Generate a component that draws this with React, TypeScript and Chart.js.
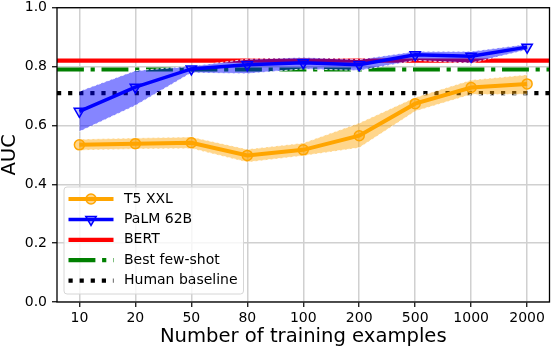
import React, { useEffect, useRef } from 'react';
import { Chart, registerables } from 'chart.js';

Chart.register(...registerables);

// ---- data ----
const categories = ['10', '20', '50', '80', '100', '200', '500', '1000', '2000'];
const t5Mean = [0.534, 0.538, 0.541, 0.498, 0.517, 0.565, 0.674, 0.729, 0.741];
const t5Low = [0.516, 0.520, 0.522, 0.475, 0.497, 0.524, 0.648, 0.705, 0.706];
const t5High = [0.553, 0.557, 0.561, 0.519, 0.540, 0.608, 0.695, 0.754, 0.772];
const palmMean = [0.648, 0.730, 0.792, 0.806, 0.813, 0.806, 0.840, 0.835, 0.866];
const palmLow = [0.579, 0.668, 0.779, 0.776, 0.792, 0.787, 0.821, 0.812, 0.857];
const palmHigh = [0.716, 0.786, 0.801, 0.825, 0.831, 0.824, 0.851, 0.851, 0.876];
const bertAUC = 0.82;
const fewShotAUC = 0.79;
const humanAUC = 0.71;
const yTickValues = [0, 0.2, 0.4, 0.6, 0.8, 1.0];

const FONT = "'DejaVu Sans', sans-serif";

const framePlugin = {
  id: 'frame',
  afterDatasetsDraw(chart: any) {
    const { ctx, chartArea: a } = chart;
    ctx.save();
    ctx.strokeStyle = 'black';
    ctx.lineWidth = 1.3;
    ctx.strokeRect(a.left, a.top, a.right - a.left, a.bottom - a.top);
    ctx.restore();
  },
};

const legendPlugin = {
  id: 'customLegend',
  afterDraw(chart: any) {
    const ctx = chart.ctx as CanvasRenderingContext2D;
    const items = chart.data.datasets.filter((d: any) => d.inLegend);
    const bx = 64, by = 187, bw = 179.5, bh = 107;
    ctx.save();
    ctx.beginPath();
    (ctx as any).roundRect(bx, by, bw, bh, 3);
    ctx.fillStyle = 'rgba(255,255,255,0.8)';
    ctx.fill();
    ctx.strokeStyle = '#d6d6d6';
    ctx.lineWidth = 1;
    ctx.stroke();
    items.forEach((ds: any, i: number) => {
      const cy = 199 + i * 20.4;
      const x0 = 68.5, x1 = 113.5;
      ctx.beginPath();
      ctx.setLineDash(ds.borderDash || []);
      ctx.lineWidth = ds.borderWidth;
      ctx.strokeStyle = ds.borderColor;
      ctx.lineCap = 'butt';
      ctx.moveTo(x0, cy);
      ctx.lineTo(x1, cy);
      ctx.stroke();
      ctx.setLineDash([]);
      const mx = (x0 + x1) / 2;
      if (ds.pointStyle === 'circle') {
        ctx.beginPath();
        ctx.arc(mx, cy, ds.pointRadius, 0, Math.PI * 2);
        ctx.fillStyle = ds.pointBackgroundColor;
        ctx.fill();
        ctx.lineWidth = ds.pointBorderWidth;
        ctx.strokeStyle = ds.pointBorderColor;
        ctx.stroke();
      } else if (ds.pointStyle === 'triangle') {
        const r = ds.pointRadius;
        ctx.beginPath();
        ctx.moveTo(mx, cy + r);
        ctx.lineTo(mx - r * 0.866, cy - r * 0.5);
        ctx.lineTo(mx + r * 0.866, cy - r * 0.5);
        ctx.closePath();
        ctx.fillStyle = ds.pointBackgroundColor;
        ctx.fill();
        ctx.lineWidth = ds.pointBorderWidth;
        ctx.strokeStyle = ds.pointBorderColor;
        ctx.stroke();
      }
      ctx.fillStyle = 'black';
      ctx.font = `14px ${FONT}`;
      ctx.textBaseline = 'middle';
      ctx.textAlign = 'left';
      ctx.fillText(ds.label, 124, cy);
    });
    ctx.restore();
  },
};

export default function App() {
  const ref = useRef<HTMLCanvasElement>(null);

  useEffect(() => {
    const canvas = ref.current!;
    const xs = categories.map((_, i) => i);
    const pts = (arr: number[]) => arr.map((y, i) => ({ x: xs[i], y }));
    const xMin = -0.4;
    const xMax = categories.length - 1 + 0.4;
    const hline = (v: number) => [{ x: xMin, y: v }, { x: xMax, y: v }];
    const bandEdge = {
      borderColor: 'rgba(255,255,255,0.85)',
      borderWidth: 1,
      borderDash: [3, 2],
      pointRadius: 0,
      tension: 0,
    };

    const chart = new Chart(canvas, {
      type: 'line',
      data: {
        datasets: [
          {
            label: 'T5 XXL', inLegend: true, data: pts(t5Mean), borderColor: 'orange', borderWidth: 4,
            pointStyle: 'circle', pointRadius: 5, pointBackgroundColor: 'rgba(255,165,0,0.45)',
            pointBorderColor: 'orange', pointBorderWidth: 1.5, order: 2,
          },
          {
            label: 'PaLM 62B', inLegend: true, data: pts(palmMean), borderColor: 'blue', borderWidth: 3.5,
            pointStyle: 'triangle', pointRotation: 180, pointRadius: 6,
            pointBackgroundColor: 'rgba(0,0,255,0.25)', pointBorderColor: 'blue', pointBorderWidth: 1.5, order: 1,
          },
          { label: 'BERT', inLegend: true, data: hline(bertAUC), borderColor: 'red', borderWidth: 4.2, pointRadius: 0, order: 20 },
          {
            label: 'Best few-shot', inLegend: true, data: hline(fewShotAUC), borderColor: 'green', borderWidth: 4.2,
            borderDash: [26.9, 6.7, 4.2, 6.7], pointRadius: 0, order: 21,
          },
          {
            label: 'Human baseline', inLegend: true, data: hline(humanAUC), borderColor: 'black', borderWidth: 4.2,
            borderDash: [4.2, 6.9], pointRadius: 0, order: 22,
          },
          { label: '', data: pts(t5Low), ...bandEdge, fill: false, order: 10 },
          { label: '', data: pts(t5High), ...bandEdge, fill: { target: 5 }, backgroundColor: 'rgba(255,165,0,0.45)', order: 10 },
          { label: '', data: pts(palmLow), ...bandEdge, fill: false, order: 9 },
          { label: '', data: pts(palmHigh), ...bandEdge, fill: { target: 7 }, backgroundColor: 'rgba(0,0,255,0.48)', order: 9 },
        ] as any,
      },
      options: {
        animation: false,
        responsive: false,
        devicePixelRatio: 1,
        layout: { padding: { top: 7.7, right: 0, left: 0, bottom: 0 } },
        plugins: { legend: { display: false }, tooltip: { enabled: false } },
        scales: {
          x: {
            type: 'linear',
            min: xMin,
            max: xMax,
            afterBuildTicks: (s: any) => { s.ticks = xs.map((v) => ({ value: v })); },
            afterFit: (s: any) => {
              s.height = 48;
              s.paddingLeft = 0; s.paddingRight = 0; s.paddingTop = 0; s.paddingBottom = 0;
            },
            ticks: {
              autoSkip: false, maxRotation: 0, color: 'black', padding: 2.7,
              font: { family: FONT, size: 14 },
              callback: (v: any) => categories[Math.round(Number(v))] ?? '',
            },
            grid: { color: '#d0d0d0', lineWidth: 1.5, tickColor: 'black', tickLength: 5, tickWidth: 1.2 },
            border: { display: false },
            title: {
              display: true, text: 'Number of training examples', color: 'black',
              font: { family: FONT, size: 19.6, lineHeight: 1.2 }, padding: { top: 0, bottom: 1 },
            },
          },
          y: {
            min: 0,
            max: 1,
            afterBuildTicks: (s: any) => { s.ticks = yTickValues.map((v) => ({ value: v })); },
            afterFit: (s: any) => {
              s.width = 57;
              s.paddingLeft = 0; s.paddingRight = 0; s.paddingTop = 0; s.paddingBottom = 0;
            },
            ticks: {
              color: 'black', padding: 5, font: { family: FONT, size: 14 },
              callback: (v: any) => Number(v).toFixed(1),
            },
            grid: { color: '#d0d0d0', lineWidth: 1.5, tickColor: 'black', tickLength: 5, tickWidth: 1.2 },
            border: { display: false },
            title: {
              display: true, text: 'AUC', color: 'black',
              font: { family: FONT, size: 19.6, lineHeight: 1 }, padding: { top: 0, bottom: 0 },
            },
          },
        },
      } as any,
      plugins: [framePlugin, legendPlugin],
    });
    return () => chart.destroy();
  }, []);

  return (
    <div style={{ position: 'fixed', left: 0, top: 0, width: 552, height: 350, overflow: 'hidden', background: 'white' }}>
      <canvas ref={ref} width={557} height={350} style={{ display: 'block' }} />
    </div>
  );
}
